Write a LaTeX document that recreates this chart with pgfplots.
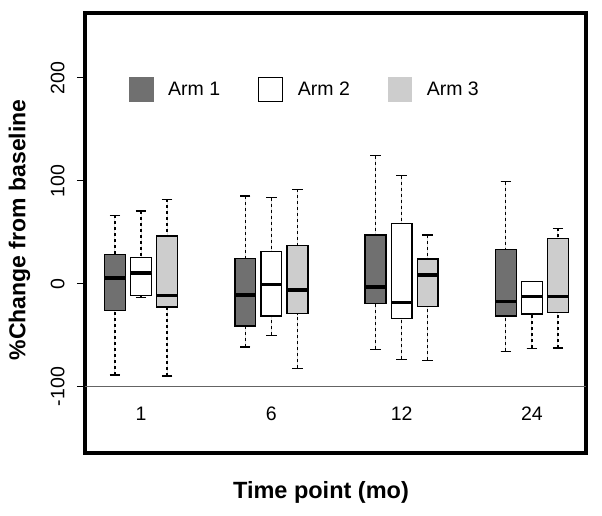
\documentclass[border=0pt]{standalone}
\usepackage{fontspec}
\setmainfont{Liberation Sans}
\usepackage{pgfplots}
\pgfplotsset{compat=1.18}
\usepgfplotslibrary{statistics}
\definecolor{arm1}{RGB}{112,112,112}
\definecolor{arm3}{RGB}{205,205,205}
\definecolor{refline}{RGB}{100,100,100}
\pgfplotsset{
 rbox/.style={
  forget plot,
  boxplot/draw direction=y,
  boxplot/box extend=16,
  boxplot/whisker extend=8,
  boxplot/every box/.style={draw=black, line width=1.4pt},
  boxplot/every median/.style={draw=black, line width=3.2pt},
  boxplot/draw/lower whisker/.code={
    \draw[black, line width=1.2pt, dash pattern=on 3pt off 3pt] (boxplot cs:\pgfplotsboxplotvalue{lower whisker}) -- (boxplot cs:\pgfplotsboxplotvalue{lower quartile});
    \draw[black, line width=1.3pt] (boxplot whisker cs:\pgfplotsboxplotvalue{lower whisker},0) -- (boxplot whisker cs:\pgfplotsboxplotvalue{lower whisker},1);
  },
  boxplot/draw/upper whisker/.code={
    \draw[black, line width=1.2pt, dash pattern=on 3pt off 3pt] (boxplot cs:\pgfplotsboxplotvalue{upper whisker}) -- (boxplot cs:\pgfplotsboxplotvalue{upper quartile});
    \draw[black, line width=1.3pt] (boxplot whisker cs:\pgfplotsboxplotvalue{upper whisker},0) -- (boxplot whisker cs:\pgfplotsboxplotvalue{upper whisker},1);
  },
 }
}
\newcommand{\bp}[7]{\addplot[rbox, fill=#2, boxplot prepared={draw position=#1, lower whisker=#3, lower quartile=#4, median=#5, upper quartile=#6, upper whisker=#7}] coordinates {};}
\begin{document}
\begin{tikzpicture}
\useasboundingbox (0,0) rectangle (602pt,515pt);
\begin{axis}[
 at={(85pt,62pt)}, anchor=south west,
 scale only axis, width=501pt, height=440pt,
 xmin=57, xmax=441.5, ymin=-164.5, ymax=263,
 xtick=\empty,
 ytick={-100,0,100,200}, yticklabels={-100,0,100,200},
 ytick pos=left,
 tick align=outside, major tick length=8pt,
 ytick style={line width=1pt, black},
 axis line style={line width=4.5pt},
 y tick label style={rotate=90, anchor=south, outer sep=9pt, font=\fontsize{19.5}{22}\selectfont},
 xlabel={Time point (mo)},
 ylabel={\%Change from baseline},
 every axis x label/.style={at={(axis description cs:0.471,-0.089)}, anchor=center, font=\bfseries\fontsize{23.5}{28}\selectfont},
 every axis y label/.style={at={(axis description cs:-0.131,0.507)}, anchor=center, rotate=90, font=\bfseries\fontsize{23}{28}\selectfont},
 legend columns=3,
 legend style={draw=none, fill=none, at={(axis description cs:0.088,0.855)}, anchor=north west, inner sep=0pt, nodes={inner sep=0pt}, font=\fontsize{19.5}{22}\selectfont,
   /tikz/every odd column/.append style={column sep=15pt},
   /tikz/every even column/.append style={column sep=38pt}},
 legend image code/.code={\draw[#1] (0pt,-11.75pt) rectangle (23.5pt,11.75pt);},
]
\addplot[refline, line width=1.3pt, forget plot] coordinates {(57,-100) (441.5,-100)};
% month 1 (group at x=100)
\bp{80}{arm1}{-88.7}{-25.9}{5.5}{28.2}{66.5}
\bp{100}{white}{-13.6}{-11.3}{10.4}{25.3}{70.7}
\bp{120}{arm3}{-89.7}{-22.6}{-11.6}{46.4}{82.0}
% month 6 (x=200)
\bp{180}{arm1}{-61.5}{-41.1}{-11.0}{24.7}{85.2}
\bp{200}{white}{-50.2}{-31.4}{-1.0}{31.5}{83.6}
\bp{220}{arm3}{-82.2}{-29.2}{-6.1}{37.3}{91.7}
% month 12 (x=300)
\bp{280}{arm1}{-63.8}{-19.4}{-3.2}{47.3}{124.4}
\bp{300}{white}{-73.5}{-33.7}{-18.5}{58.3}{105.0}
\bp{320}{arm3}{-74.4}{-22.4}{8.5}{24.0}{47.3}
% month 24 (x=400)
\bp{380}{arm1}{-65.7}{-31.4}{-17.1}{33.4}{99.1}
\bp{400}{white}{-62.8}{-29.4}{-12.6}{1.9}{1.9}
\bp{420}{arm3}{-62.5}{-27.8}{-12.6}{44.1}{53.8}
\addlegendimage{fill=arm1, draw=arm1}
\addlegendentry{Arm 1}
\addlegendimage{fill=white, draw=black, line width=1.2pt}
\addlegendentry{Arm 2}
\addlegendimage{fill=arm3, draw=arm3}
\addlegendentry{Arm 3}
\node[font=\fontsize{19.5}{22}\selectfont] at (axis cs:100,-126.6) {1};
\node[font=\fontsize{19.5}{22}\selectfont] at (axis cs:200,-126.6) {6};
\node[font=\fontsize{19.5}{22}\selectfont] at (axis cs:300,-126.6) {12};
\node[font=\fontsize{19.5}{22}\selectfont] at (axis cs:400,-126.6) {24};
\end{axis}
\end{tikzpicture}
\end{document}
